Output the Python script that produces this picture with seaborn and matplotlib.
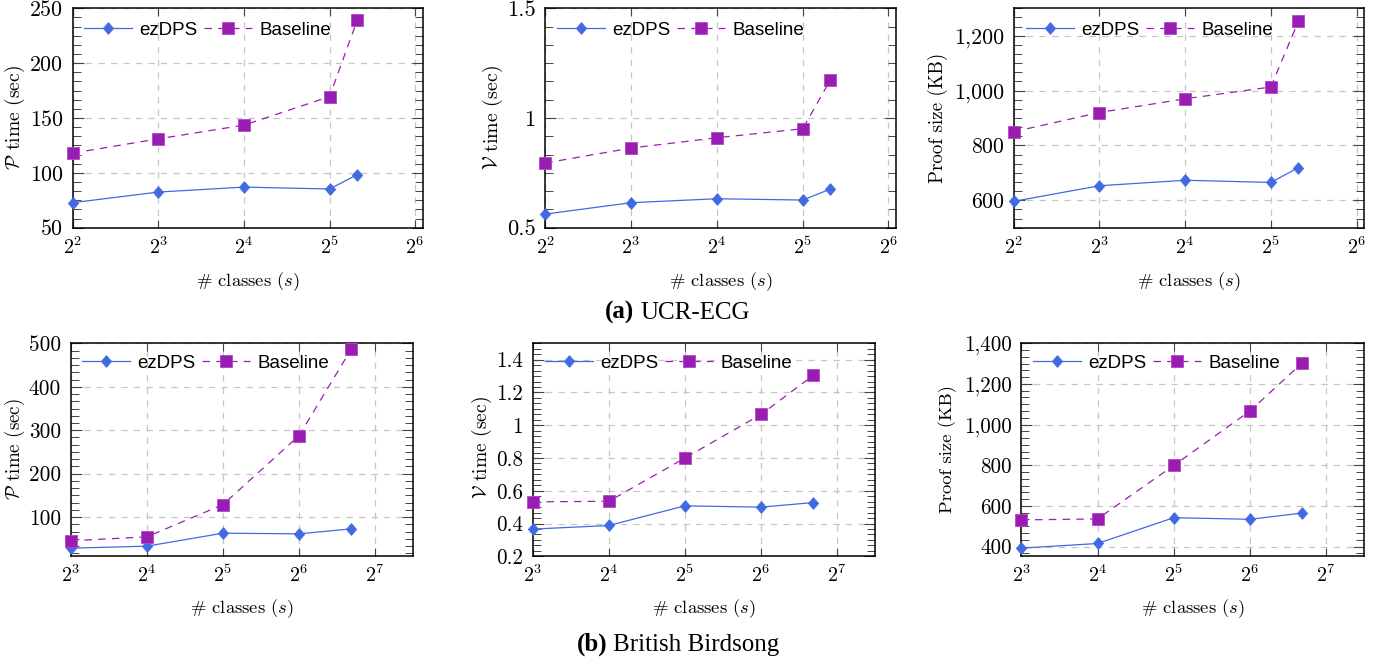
import matplotlib
matplotlib.use("Agg")
import matplotlib.pyplot as plt
import seaborn as sns
from matplotlib.ticker import MultipleLocator, FuncFormatter, NullLocator

# ---------------- data ----------------
ecg_classes = [4, 8, 16, 32, 40]
ecg_prove_ezdps = [72.8, 82.5, 87.0, 85.3, 98.3]
ecg_prove_base = [118.0, 131.0, 143.5, 169.5, 239.0]
ecg_verify_ezdps = [0.562, 0.614, 0.632, 0.626, 0.676]
ecg_verify_base = [0.795, 0.863, 0.910, 0.951, 1.173]
ecg_size_ezdps = [596, 653, 673, 665, 719]
ecg_size_base = [850, 920, 970, 1013, 1253]

bird_classes = [8, 16, 32, 64, 103]
bird_prove_ezdps = [28.7, 33.3, 63.2, 61.7, 73.2]
bird_prove_base = [45.6, 54.8, 129.0, 287.7, 487.0]
bird_verify_ezdps = [0.366, 0.388, 0.508, 0.500, 0.528]
bird_verify_base = [0.532, 0.536, 0.800, 1.066, 1.305]
bird_size_ezdps = [392, 415, 542, 534, 565]
bird_size_base = [531, 536, 799, 1067, 1304]

series_names = ["ezDPS", "Baseline"]
ecg_xticks_exp = [2, 3, 4, 5, 6]
bird_xticks_exp = [3, 4, 5, 6, 7]
ylabels = [r"$\mathcal{P}$ time (sec)", r"$\mathcal{V}$ time (sec)", "Proof size (KB)"]
xlabel = "# classes ($s$)"
captions = [("(a)", "UCR-ECG"), ("(b)", "British Birdsong")]

# ---------------- style ----------------
plt.rcParams["font.family"] = "cmr10"
plt.rcParams["mathtext.fontset"] = "cm"
plt.rcParams["axes.formatter.use_mathtext"] = True

BLUE = "#4169E1"
PURPLE = "#9A1DB3"
GRID = "#c6c6c6"
TICKC = "#444444"

W, H = 1394, 661
fig = plt.figure(figsize=(W / 100, H / 100), dpi=100)


def rect(left, right, top, bottom):
    return [left / W, 1 - bottom / H, (right - left) / W, (bottom - top) / H]


# geometry in reference pixels: (left, right, top, bottom)
boxes = [(72.7, 422.7, 8.3, 227.7), (545.3, 896.0, 8.3, 227.7), (1013.7, 1364.0, 8.3, 227.7),
         (70.7, 413.3, 343.3, 556.3), (532.7, 875.3, 343.3, 556.3), (1021.3, 1364.3, 343.3, 556.3)]
# ylabel: (center x, center y, length px); xlabel center y
ylab_t = [(15, 117.5, 105), (493.3, 117.5, 105), (938.3, 118, 130),
          (15, 449, 102), (481.7, 448, 103), (948, 449, 128)]
xlab_y = [282, 282, 282, 608.3, 608.3, 608.3]
ytick_t = [("250", 33), ("1.5", 29), ("1,200", 50), ("500", 32), ("1.4", 27), ("1,400", 48)]

panels = [
    (ecg_classes, ecg_prove_ezdps, ecg_prove_base, ecg_xticks_exp, (4, 68), (50, 250), 50, 0, 0.032, 0.901),
    (ecg_classes, ecg_verify_ezdps, ecg_verify_base, ecg_xticks_exp, (4, 68), (0.5, 1.5), 0.5, 1, 0.034, 0.901),
    (ecg_classes, ecg_size_ezdps, ecg_size_base, ecg_xticks_exp, (4, 68), (500, 1300), 200, 2, 0.035, 0.901),
    (bird_classes, bird_prove_ezdps, bird_prove_base, bird_xticks_exp, (8, 181), (10, 500), 100, 0, 0.034, 0.906),
    (bird_classes, bird_verify_ezdps, bird_verify_base, bird_xticks_exp, (8, 181), (0.2, 1.5), 0.2, 1, 0.036, 0.906),
    (bird_classes, bird_size_ezdps, bird_size_base, bird_xticks_exp, (8, 181), (352, 1400), 200, 2, 0.034, 0.906),
]

diamond = [(0, 1), (0.88, 0), (0, -1), (-0.88, 0), (0, 1)]


def yfmt(v, pos):
    return format(round(v, 6), ",g")


axes = []
for box, (xs, ez, base, xexp, xlim, ylim, step, yli, lgx, lgy) in zip(boxes, panels):
    ax = fig.add_axes(rect(*box))
    axes.append(ax)
    ax.set_xscale("log", base=2)
    sns.lineplot(x=xs, y=ez, ax=ax, color=BLUE, linewidth=0.9, marker=diamond,
                 markersize=8.4, markeredgecolor=BLUE, markeredgewidth=0.6,
                 label=series_names[0], zorder=3, clip_on=False)
    sns.lineplot(x=xs, y=base, ax=ax, color=PURPLE, linewidth=0.9, linestyle=(0, (6, 5)),
                 marker="s", markersize=9.2, markeredgecolor="#b048c4", markeredgewidth=0.6,
                 label=series_names[1], zorder=4, clip_on=False)
    ax.set_xlim(*xlim)
    xt = [2 ** k for k in xexp]
    ax.set_xticks(xt)
    ax.set_xticklabels([f"$2^{{{k}}}$" for k in xexp])
    ax.xaxis.set_minor_locator(NullLocator())
    ax.yaxis.set_major_locator(MultipleLocator(step))
    ax.yaxis.set_minor_locator(MultipleLocator(step / 6))
    ax.yaxis.set_major_formatter(FuncFormatter(yfmt))
    ax.set_ylim(*ylim)

    ax.tick_params(which="both", direction="in", top=True, right=True, color=TICKC)
    ax.tick_params(axis="y", which="major", length=8, width=0.8, pad=7, labelsize=16)
    ax.tick_params(axis="y", which="minor", length=5.5, width=0.7)
    ax.tick_params(axis="x", which="major", length=6, width=0.8, pad=6, labelsize=15.5)
    ax.grid(True, which="major", color=GRID, linestyle=(0, (5, 5)), linewidth=0.9)
    ax.set_axisbelow(True)
    for s in ax.spines.values():
        s.set_color("black")
        s.set_linewidth(1.1)
        s.set_zorder(2.5)

    ax.set_ylabel(ylabels[yli], fontsize=13.8)
    ax.set_xlabel(xlabel, fontsize=13.8)

    handles, labels = ax.get_legend_handles_labels()
    ax.legend(handles, labels, loc="center left", bbox_to_anchor=(lgx, lgy), ncol=2,
              frameon=False, prop={"family": "Liberation Sans", "size": 13.5},
              handlelength=2.55, handletextpad=0.4, columnspacing=0.35,
              borderpad=0, borderaxespad=0)

# captions
for (bold, rest), (xb, xr, yb) in zip(captions, [(634, 640, 318.5), (607, 613, 651)]):
    fig.text(xb / W, 1 - yb / H, bold, ha="right", va="baseline",
             family="Liberation Serif", fontweight="bold", fontsize=18)
    fig.text(xr / W, 1 - yb / H, rest, ha="left", va="baseline",
             family="Liberation Serif", fontsize=18)

# ---- fit text sizes / label positions to the reference's pixel measurements ----
fig.canvas.draw()
rend = fig.canvas.get_renderer()
for ax, box, (cx, cy, ln), xly, (tl, tw) in zip(axes, boxes, ylab_t, xlab_y, ytick_t):
    lab = ax.yaxis.label
    bb = lab.get_window_extent(rend)
    lab.set_fontsize(lab.get_fontsize() * ln / bb.height)
    xl = ax.xaxis.label
    bbx = xl.get_window_extent(rend)
    xl.set_fontsize(xl.get_fontsize() * 104 / bbx.width)
    for t in ax.get_yticklabels():
        if t.get_text() == tl:
            w = t.get_window_extent(rend).width
            ax.tick_params(axis="y", which="major", labelsize=16 * tw / w)
    for t in ax.get_xticklabels():
        if t.get_text() == "$2^{4}$":
            w = t.get_window_extent(rend).width
            ax.tick_params(axis="x", which="major", labelsize=15.5 * 19.5 / w)

fig.canvas.draw()
for ax, box, (cx, cy, ln), xly in zip(axes, boxes, ylab_t, xlab_y):
    left, right, top, bottom = box
    wpx, hpx = right - left, bottom - top
    lab = ax.yaxis.label
    ax.yaxis.set_label_coords(0, 0.5)
    fig.canvas.draw()
    bb = lab.get_window_extent(rend)
    ccx = (bb.x0 + bb.x1) / 2
    ax.yaxis.set_label_coords((cx - ccx) / wpx, 0.5 + ((H - cy) - (bb.y0 + bb.y1) / 2) / hpx)
    xl = ax.xaxis.label
    ax.xaxis.set_label_coords(0.5, 0)
    fig.canvas.draw()
    bbx = xl.get_window_extent(rend)
    ccy = (bbx.y0 + bbx.y1) / 2
    ax.xaxis.set_label_coords(0.5, ((H - xly) - ccy) / hpx)

fig.savefig("out.png", dpi=100)
